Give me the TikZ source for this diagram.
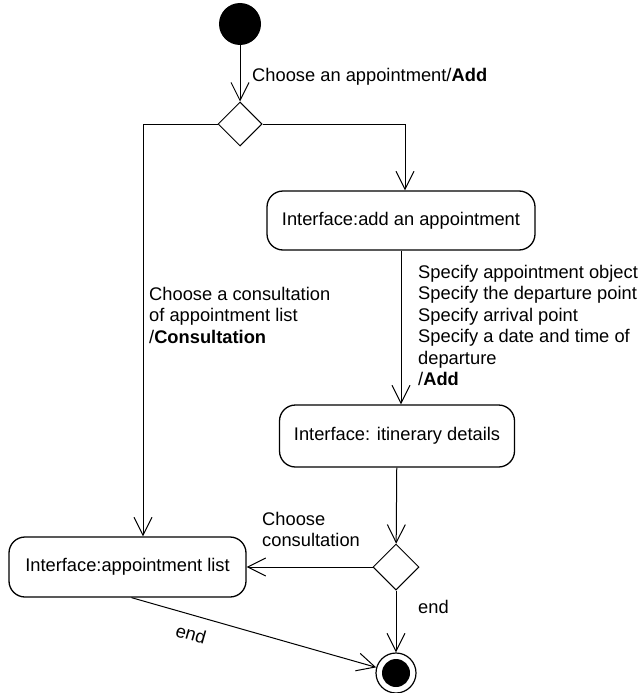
\documentclass[tikz,border=0pt]{standalone}
\usepackage{fontspec}
\setmainfont{Liberation Sans}
\usetikzlibrary{shapes.geometric,arrows.meta}
\begin{document}
\begin{tikzpicture}[x=1pt,y=-1pt,
  txt/.style={font=\fontsize{18.3}{21.5}\selectfont},
  state/.style={draw, rounded corners=16pt, line width=1.3pt, inner sep=0pt, txt},
  dec/.style={diamond, draw, line width=1pt, minimum width=44pt, minimum height=44pt, inner sep=0pt},
  lbl/.style={inner sep=0pt, txt, align=left},
  flow/.style={line width=1pt, -{Straight Barb[length=18pt,width=18pt,line width=1pt]}}]
\useasboundingbox (0,0) rectangle (642,693);
\node[circle, fill=black, minimum size=42pt, inner sep=0pt] (start) at (240,24) {};
\node[dec] (d1) at (240,124) {};
\node[state, minimum width=268pt, minimum height=59pt] (add) at (401,220.5) {Interface:add an appointment};
\node[state, minimum width=235pt, minimum height=62pt] (itin) at (397,436) {Interface: itinerary details};
\node[dec, minimum width=46pt, minimum height=46pt] (d2) at (396,567) {};
\node[state, minimum width=237pt, minimum height=60pt] (list) at (127.5,567) {Interface:appointment list};
\node[circle, draw, line width=1.2pt, minimum size=40pt, inner sep=0pt,
  path picture={\fill (path picture bounding box.center) circle (14);}] (endc) at (396,673) {};

\draw[flow] (start) -- (d1);
\draw[flow] (d1.east) -| ([xshift=4pt]add.north);
\draw[flow] (d1.west) -| ([xshift=15.5pt]list.north);
\draw[flow] (add.south) -- (add.south |- itin.north);
\draw[flow] (itin) -- (d2);
\draw[flow] (d2) -- (list);
\draw[flow] (d2) -- (endc);
\draw[flow] ([xshift=4pt]list.south) -- (endc);

\node[lbl, anchor=base west] (l1) at (252,81.5) {Choose an appointment/\textbf{Add}};
\node[lbl, anchor=north west] (l2) at (418,265) {Specify appointment object\\Specify the departure point\\Specify arrival point\\Specify a date and time of\\departure\\/\textbf{Add}};
\node[lbl, anchor=north west] (l3) at (149,287) {Choose a consultation\\of appointment list\\/\textbf{Consultation}};
\node[lbl, anchor=north west] (l4) at (262,512) {Choose\\consultation};
\node[lbl, anchor=base west] (l5) at (418,613.5) {end};
\node[lbl, rotate=-16] (l6) at (191,634) {end};
\end{tikzpicture}
\end{document}
